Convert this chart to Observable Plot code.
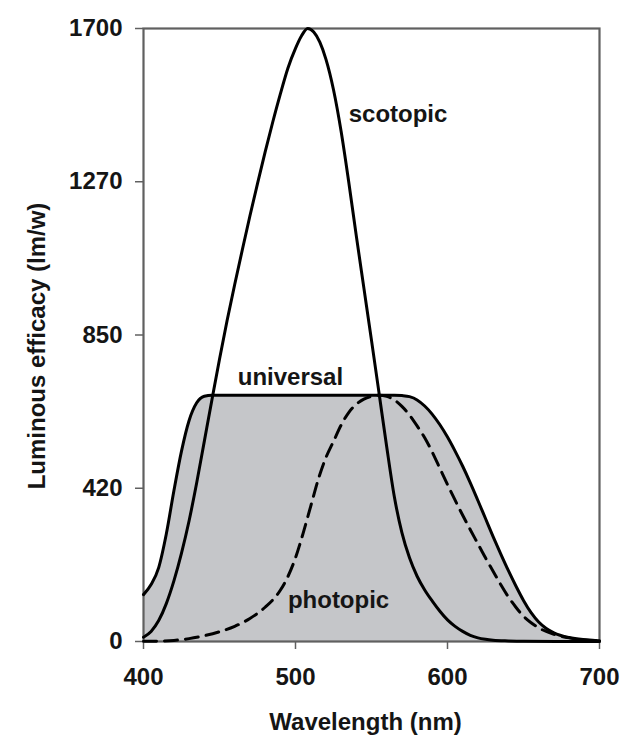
<!DOCTYPE html>
<html><head><meta charset="utf-8">
<script src="https://cdn.jsdelivr.net/npm/d3@7"></script>
<script src="https://cdn.jsdelivr.net/npm/@observablehq/plot@0.6"></script>
<style>body{margin:0;background:#fff}</style>
</head><body><div id="chart"></div>
<script>
// ---- data ----
const scotopicNm  = [400,405,410,415,420,425,430,435,440,445,450,455,460,465,470,475,480,485,490,495,500,504,508,512,516,520,525,530,535,540,545,550,555,560,565,570,575,580,585,590,595,600,605,610,615,620,625,630,640,650,700];
const scotopicLmW = [12,28,58,105,168,245,335,440,555,670,783,890,990,1086,1180,1270,1357,1440,1518,1590,1645,1680,1700,1690,1662,1615,1530,1415,1275,1125,980,835,688,540,402,302,232,181,143,112,84,60,42,28,17,10,6,3.5,1.5,0.5,0];

const photopicNm  = [400,410,420,430,440,450,460,470,480,490,495,500,505,510,515,520,525,530,535,540,545,550,555,560,565,570,575,580,585,590,595,600,605,610,615,620,625,630,635,640,645,650,655,660,670,680,690,700];
const photopicLmW = [0.5,1,3,8,16,27,42,64,95,142,180,232,300,375,450,510,555,600,635,658,672,680,683,680,670,652,628,598,565,525,480,435,392,350,310,271,232,195,158,124,95,70,52,38,20,10,5,2];

const universalNm  = [400,405,410,415,420,425,430,435,440,445,565,570,575,580,585,590,595,600,605,610,615,620,625,630,635,640,645,650,655,660,665,670,680,690,700];
const universalLmW = [130,158,205,298,418,528,613,662,680,683,683,682,679,670,653,630,601,567,528,486,440,391,341,291,243,197,154,114,80,54,36,24,11,5,2];

const xTickValues = [400,500,600,700];
const xTickLabels = ["400","500","600","700"];
const yTickValues = [0,425,850,1275,1700];
const yTickLabels = ["0","420","850","1270","1700"];

const curveLabels   = ["scotopic","universal","photopic"];
const curveLabelNm  = [535,462,495];
const curveLabelLmW = [1440,710,92];

const xTitle = "Wavelength (nm)";
const yTitle = "Luminous efficacy (lm/w)";

// ---- tables ----
const toRows = (nm, v) => nm.map((d, i) => ({nm: d, v: v[i]}));
const scotopic  = toRows(scotopicNm, scotopicLmW);
const photopic  = toRows(photopicNm, photopicLmW);
const universal = toRows(universalNm, universalLmW);
const labels = curveLabels.map((t, i) => ({text: t, nm: curveLabelNm[i], v: curveLabelLmW[i]}));

const FONT = "'Liberation Sans', Arial, Helvetica, sans-serif";

const chart = Plot.plot({
  width: 625,
  height: 739,
  marginLeft: 143,
  marginRight: 26,
  marginTop: 28,
  marginBottom: 98,
  style: {fontFamily: FONT, fontSize: "24px", fontWeight: "bold", color: "#151515", background: "#fff", overflow: "visible"},
  x: {domain: [400, 700]},
  y: {domain: [0, 1700]},
  marks: [
    Plot.areaY(universal, {x: "nm", y: "v", fill: "#c5c6c9", curve: "monotone-x"}),
    Plot.frame({stroke: "#606060", strokeWidth: 2.2}),
    Plot.axisX({ticks: xTickValues, tickFormat: d => xTickLabels[xTickValues.indexOf(d)], tickSize: 8, tickPadding: 18, label: null, fontSize: 24, stroke: "#606060", strokeWidth: 1.5}),
    Plot.axisY({ticks: yTickValues, tickFormat: d => yTickLabels[yTickValues.indexOf(d)], tickSize: 8, tickPadding: 13, label: null, fontSize: 24, stroke: "#606060", strokeWidth: 1.5}),
    Plot.line(photopic, {x: "nm", y: "v", stroke: "#000", strokeWidth: 3, strokeDasharray: "13,8", curve: "monotone-x"}),
    Plot.line(scotopic, {x: "nm", y: "v", stroke: "#000", strokeWidth: 3, curve: "monotone-x"}),
    Plot.line(universal, {x: "nm", y: "v", stroke: "#000", strokeWidth: 3, curve: "monotone-x"}),
    Plot.text(labels, {x: "nm", y: "v", text: "text", textAnchor: "start", lineAnchor: "bottom", fontSize: 24, fontWeight: "bold", fill: "#151515"}),
    Plot.text([xTitle], {frameAnchor: "bottom", text: d => d, textAnchor: "middle", dx: -6, dy: 81, lineAnchor: "middle", fontSize: 24, fontWeight: "bold", fill: "#151515"}),
    Plot.text([yTitle], {frameAnchor: "left", text: d => d, rotate: -90, textAnchor: "middle", dx: -106, dy: 11, lineAnchor: "middle", fontSize: 24, fontWeight: "bold", fill: "#151515"})
  ]
});
document.getElementById("chart").appendChild(chart);
</script>
</body></html>
